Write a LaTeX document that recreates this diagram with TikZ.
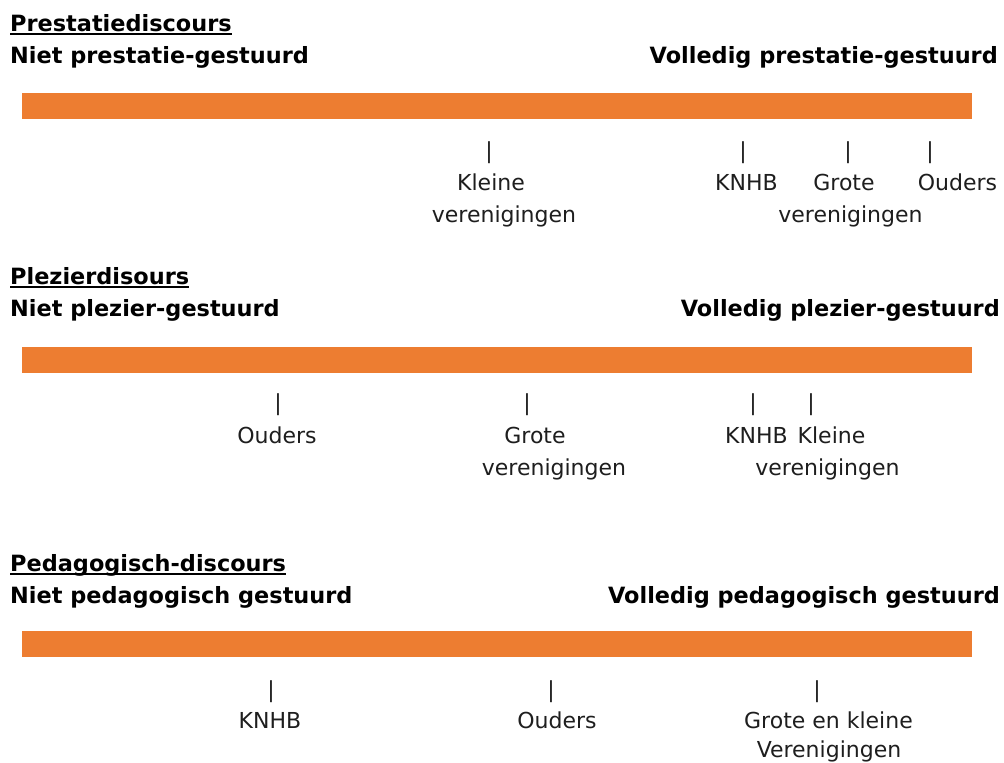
\documentclass[tikz,border=0pt]{standalone}
\usepackage{fontspec}
\setmainfont{DejaVu Sans}
\definecolor{barorange}{HTML}{ED7D31}
\definecolor{txt}{HTML}{1E1E1E}
\begin{document}
\begin{tikzpicture}[x=1pt,y=-1pt,
  hd/.style={inner sep=0pt, font=\fontsize{22.4}{26}\selectfont\bfseries, text=black},
  lbl/.style={inner sep=0pt, anchor=base, font=\fontsize{22}{26}\selectfont, text=txt},
  tick/.style={inner sep=0pt, anchor=base, font=\fontsize{22}{26}\selectfont, text=txt},
  bar/.style={fill=barorange, draw=none, inner sep=0pt, minimum width=950pt, minimum height=26pt},
  underl/.style={line width=1.6pt, black}]
\useasboundingbox (0,0) rectangle (1004,763);
\fill[white] (0,0) rectangle (1004,763);

% ---------- Section 1 ----------
\node[hd, anchor=base west] (t1) at (10,31) {Prestatiediscours};
\draw[underl] ([yshift=-3pt]t1.base west) -- ([yshift=-3pt]t1.base east);
\node[hd, anchor=base west] (n1) at (10,63) {Niet prestatie-gestuurd};
\node[hd, anchor=base east] (v1) at (998,63) {Volledig prestatie-gestuurd};
\node[bar] (bar1) at (497,106) {};
\node[tick] (k1a) at (489,158) {|};
\node[tick] (k1b) at (743,158) {|};
\node[tick] (k1c) at (848,158) {|};
\node[tick] (k1d) at (930,158) {|};
\node[lbl] (a1a) at (491,190) {Kleine};
\node[lbl] (a1b) at (504,222) {verenigingen};
\node[lbl] (b1) at (746.5,190) {KNHB};
\node[lbl] (c1a) at (844,190) {Grote};
\node[lbl] (c1b) at (850.5,222) {verenigingen};
\node[lbl] (d1) at (957.5,190) {Ouders};

% ---------- Section 2 ----------
\node[hd, anchor=base west] (t2) at (10,284) {Plezierdisours};
\draw[underl] ([yshift=-3pt]t2.base west) -- ([yshift=-3pt]t2.base east);
\node[hd, anchor=base west] (n2) at (10,316) {Niet plezier-gestuurd};
\node[hd, anchor=base east] (v2) at (1000,316) {Volledig plezier-gestuurd};
\node[bar] (bar2) at (497,360) {};
\node[tick] (k2a) at (278,410) {|};
\node[tick] (k2b) at (527,410) {|};
\node[tick] (k2c) at (753,410) {|};
\node[tick] (k2d) at (811,410) {|};
\node[lbl] (a2) at (277,443) {Ouders};
\node[lbl] (b2a) at (535,443) {Grote};
\node[lbl] (b2b) at (554,475) {verenigingen};
\node[lbl] (c2) at (756.5,443) {KNHB};
\node[lbl] (d2a) at (831.5,443) {Kleine};
\node[lbl] (d2b) at (827.5,475) {verenigingen};

% ---------- Section 3 ----------
\node[hd, anchor=base west] (t3) at (10,571) {Pedagogisch-discours};
\draw[underl] ([yshift=-3pt]t3.base west) -- ([yshift=-3pt]t3.base east);
\node[hd, anchor=base west] (n3) at (10,603) {Niet pedagogisch gestuurd};
\node[hd, anchor=base east] (v3) at (1000,603) {Volledig pedagogisch gestuurd};
\node[bar] (bar3) at (497,643.5) {};
\node[tick] (k3a) at (271,697) {|};
\node[tick] (k3b) at (551,697) {|};
\node[tick] (k3c) at (817,697) {|};
\node[lbl] (a3) at (270,728) {KNHB};
\node[lbl] (b3) at (557,728) {Ouders};
\node[lbl] (c3a) at (828.5,728) {Grote en kleine};
\node[lbl] (c3b) at (829,757.5) {Verenigingen};
\end{tikzpicture}
\end{document}
